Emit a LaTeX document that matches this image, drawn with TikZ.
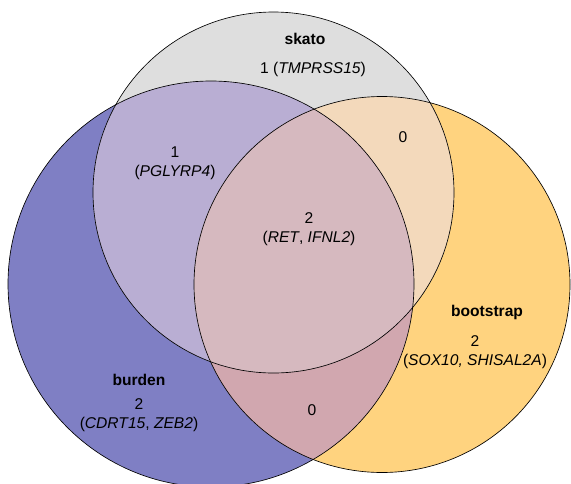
\documentclass[tikz,border=0pt]{standalone}
\usepackage{fontspec}
\setmainfont{Liberation Sans}
\definecolor{cBurden}{HTML}{7F7FC4}
\definecolor{cSkato}{HTML}{DEDEDE}
\definecolor{cBoot}{HTML}{FFD37F}
\definecolor{cSB}{HTML}{B9AED3}
\definecolor{cSO}{HTML}{F3D9BB}
\definecolor{cBO}{HTML}{D1A7AF}
\definecolor{cAll}{HTML}{D6B9BF}
\tikzset{
  outline/.style={draw=black, line width=0.65pt},
  lbl/.style={font=\fontsize{15.6}{19.5}\selectfont, align=center, inner sep=0pt, text=black},
  ttl/.style={lbl, font=\fontsize{15.6}{19.5}\selectfont\bfseries},
}
\begin{document}
\begin{tikzpicture}[x=1pt,y=-1pt]
\useasboundingbox (0,0) rectangle (571,483);
\fill[white] (0,0) rectangle (571,483);
\coordinate (S) at (273.5,192.5);
\coordinate (B) at (211,284);
\coordinate (O) at (382,284.5);
\def\rS{180.5}\def\rB{203}\def\rO{188}
% single regions
\fill[cBurden] (B) circle[radius=\rB];
\fill[cBoot] (O) circle[radius=\rO];
\fill[cSkato] (S) circle[radius=\rS];
% pairwise
\begin{scope}
  \clip (S) circle[radius=\rS];
  \fill[cSB] (B) circle[radius=\rB];
\end{scope}
\begin{scope}
  \clip (S) circle[radius=\rS];
  \fill[cSO] (O) circle[radius=\rO];
\end{scope}
\begin{scope}
  \clip (B) circle[radius=\rB];
  \fill[cBO] (O) circle[radius=\rO];
\end{scope}
% triple
\begin{scope}
  \clip (S) circle[radius=\rS];
  \clip (B) circle[radius=\rB];
  \fill[cAll] (O) circle[radius=\rO];
\end{scope}
% outlines
\draw[outline] (S) circle[radius=\rS];
\draw[outline] (B) circle[radius=\rB];
\draw[outline] (O) circle[radius=\rO];
% labels
\node[ttl] (tskato) at (305,39) {skato};
\node[lbl] (nskato) at (313,69) {1 (\textit{TMPRSS15})};
\node[lbl] (nso) at (403,137) {0};
\node[lbl] (nsb) at (175,163) {1\\(\textit{PGLYRP4})};
\node[lbl] (nall) at (309,229) {2\\(\textit{RET}, \textit{IFNL2})};
\node[ttl] (tboot) at (487,312) {bootstrap};
\node[lbl] (nboot) at (475,352) {2\\(\textit{SOX10, SHISAL2A})};
\node[ttl] (tburden) at (139,380) {burden};
\node[lbl] (nburden) at (139,415) {2\\(\textit{CDRT15}, \textit{ZEB2})};
\node[lbl] (nbo) at (312,410) {0};
\end{tikzpicture}
\end{document}
